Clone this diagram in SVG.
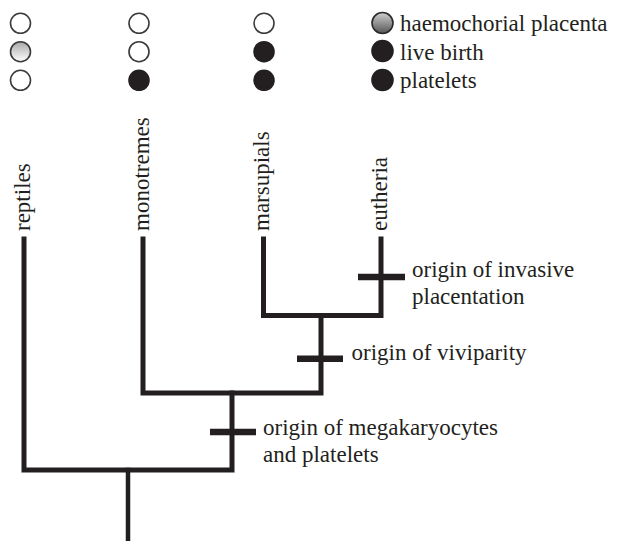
<svg xmlns="http://www.w3.org/2000/svg" width="619" height="541" viewBox="0 0 619 541">
<defs>
<linearGradient id="gPale" x1="0" y1="0" x2="0" y2="1">
<stop offset="0" stop-color="#a8a8a8"/>
<stop offset="1" stop-color="#ffffff"/>
</linearGradient>
<linearGradient id="gLegend" x1="0" y1="0" x2="0" y2="1">
<stop offset="0" stop-color="#d0d0d0"/>
<stop offset="1" stop-color="#555555"/>
</linearGradient>
<circle id="cOpen" r="10" fill="#ffffff" stroke="#3a3a3a" stroke-width="1.6"/>
<circle id="cPale" r="10" fill="url(#gPale)" stroke="#3a3a3a" stroke-width="1.6"/>
<circle id="cFull" r="10" fill="#231f20" stroke="#231f20" stroke-width="1.6"/>
<circle id="cLeg" r="10.5" fill="url(#gLegend)" stroke="#2a2a2a" stroke-width="1.6"/>
<circle id="cLegFull" r="10.5" fill="#231f20" stroke="#231f20" stroke-width="1.6"/>
</defs>
<rect width="619" height="541" fill="#fff"/>
<g id="traits">
<use href="#cOpen" x="20.5" y="23.3"/>
<use href="#cPale" x="20.5" y="51.7"/>
<use href="#cOpen" x="20.5" y="80.3"/>
<use href="#cOpen" x="139" y="23.3"/>
<use href="#cOpen" x="139" y="51.7"/>
<use href="#cFull" x="139" y="80.3"/>
<use href="#cOpen" x="264" y="23.3"/>
<use href="#cFull" x="264" y="51.7"/>
<use href="#cFull" x="264" y="80.3"/>
</g>
<g id="legend" font-family="Liberation Serif, serif" font-size="23" fill="#231f20">
<use href="#cLeg" x="382.5" y="23"/>
<text x="400" y="31">haemochorial placenta</text>
<use href="#cLegFull" x="382.5" y="51"/>
<text x="400" y="59.5">live birth</text>
<use href="#cLegFull" x="382.5" y="80"/>
<text x="400" y="88">platelets</text>
</g>
<g id="taxa" font-family="Liberation Serif, serif" font-size="23" fill="#231f20">
<text transform="translate(29.5,231) rotate(-90)">reptiles</text>
<text transform="translate(148.5,231) rotate(-90)">monotremes</text>
<text transform="translate(268.5,231) rotate(-90)">marsupials</text>
<text transform="translate(386.5,231) rotate(-90)">eutheria</text>
</g>
<g id="connectors" fill="none" stroke="#231f20" stroke-width="5" stroke-linecap="square" stroke-linejoin="miter">
<path d="M24,239 V470 H232 V393"/>
<path d="M143,239 V393 H321 V315.5"/>
<path d="M263.5,239 V315.5 H381 V239"/>
<path d="M128,470 V545" stroke-width="4.5"/>
</g>
<g id="events" font-family="Liberation Serif, serif" font-size="23" fill="#231f20" stroke-width="6.5">
<line x1="358" y1="277" x2="405" y2="277" stroke="#231f20"/>
<text x="412" y="276.5">origin of invasive</text>
<text x="412" y="303.5">placentation</text>
<line x1="297" y1="358.7" x2="343" y2="358.7" stroke="#231f20"/>
<text x="351.5" y="359.5">origin of viviparity</text>
<line x1="210" y1="432" x2="256" y2="432" stroke="#231f20"/>
<text x="263" y="434.5">origin of megakaryocytes</text>
<text x="263" y="462">and platelets</text>
</g>
</svg>
